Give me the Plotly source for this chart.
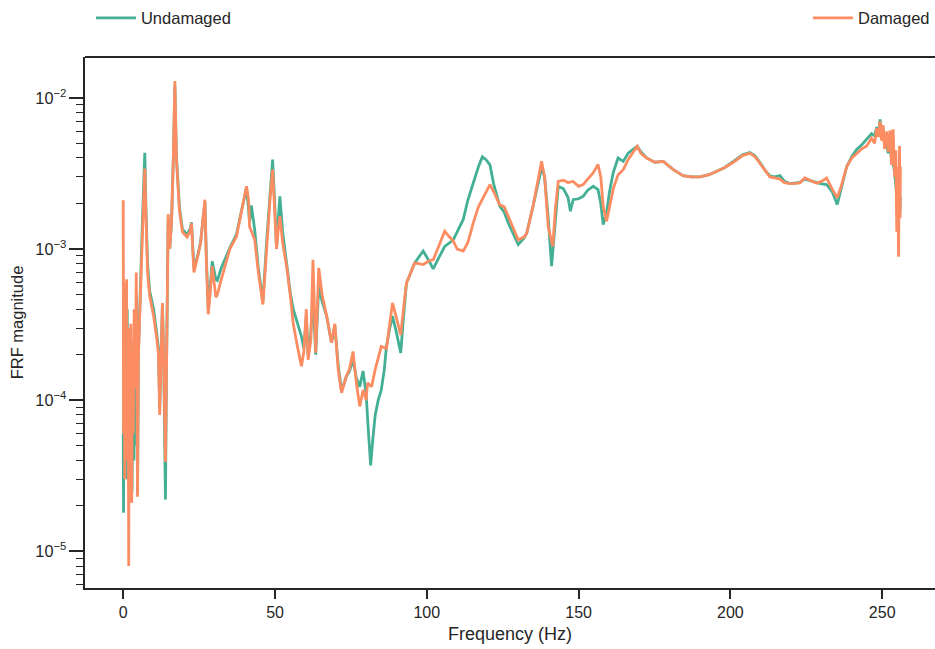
import plotly.graph_objects as go

# Frequency response function magnitudes (Hz, magnitude) for the two structural states
undamaged_freq = [
    0.0, 0.1, 0.3, 0.5, 0.8, 1.0, 1.3, 1.6, 2.0, 2.3, 2.6, 2.9, 3.2, 3.5, 3.8, 4.1, 4.4, 4.7,
    5.0, 5.4, 5.8, 6.3, 6.8, 7.1, 7.5, 8.0, 8.7, 10.0, 11.0, 11.6, 12.0, 12.4, 12.9, 13.3, 13.9,
    14.3, 14.8, 15.3, 15.9, 16.5, 17.0, 17.5, 18.5, 19.5, 21.0, 22.0, 22.5, 23.0, 23.3, 24.5,
    25.5, 26.3, 26.9, 27.4, 28.0, 28.6, 29.3, 30.5, 31.0, 32.3, 35.1, 37.3, 40.0, 40.6, 41.3,
    41.6, 42.2, 43.3, 44.5, 46.0, 47.2, 48.4, 49.2, 49.8, 50.5, 51.0, 51.6, 52.5, 53.8, 55.0,
    56.0, 57.5, 58.7, 59.5, 60.3, 60.9, 61.8, 62.5, 63.4, 64.4, 65.5, 67.0, 68.6, 69.7, 70.8,
    71.9, 73.5, 74.5, 75.7, 76.8, 77.9, 79.0, 80.0, 80.8, 81.5, 82.2, 83.0, 84.0, 85.0, 86.0,
    86.7, 87.8, 88.7, 90.0, 91.4, 92.3, 93.3, 96.0, 98.8, 100.5, 102.1, 104.0, 105.9, 107.5,
    108.7, 110.0, 112.0, 113.5, 115.3, 117.0, 118.3, 119.5, 120.8, 122.0, 124.0, 125.5, 126.8,
    128.5, 130.1, 132.0, 132.9, 135.0, 136.5, 137.8, 138.8, 140.0, 141.1, 142.3, 143.3, 145.0,
    146.5, 147.3, 148.2, 150.0, 151.5, 153.0, 154.8, 156.4, 157.3, 158.1, 159.2, 160.2, 161.4,
    163.0, 164.7, 166.3, 168.0, 169.3, 170.5, 172.4, 175.1, 177.9, 181.2, 184.4, 187.0, 190.0,
    193.0, 195.5, 198.0, 201.0, 204.0, 206.4, 208.0, 209.7, 211.5, 213.0, 214.6, 216.3, 217.8,
    219.6, 221.5, 222.9, 224.5, 226.0, 228.4, 230.0, 231.7, 233.5, 235.2, 236.5, 238.3, 240.0,
    241.6, 243.3, 244.9, 246.5, 247.5, 248.2, 248.8, 249.3, 249.8, 250.3, 250.8, 251.5, 252.0,
    252.6, 253.1, 253.6, 254.1, 254.7, 255.1, 255.5, 255.8, 256.0,
]
undamaged_mag = [
    6e-5, 1.8e-5, 3e-4, 5e-5, 3.4e-4, 3e-5, 4e-4, 6e-5, 3e-4, 3e-5, 2.5e-4, 2.5e-5, 2.2e-4, 4e-5,
    3e-4, 5e-5, 5e-4, 2.4e-5, 2e-4, 4.5e-4, 7e-4, 1.5e-3, 3e-3, 4.33e-3, 1.8e-3, 8e-4, 5.3e-4,
    4e-4, 2.8e-4, 2.2e-4, 9e-5, 1.6e-4, 4.3e-4, 2e-4, 2.2e-5, 2e-4, 1.6e-3, 1.0e-3, 1.5e-3, 4e-3,
    1.2e-2, 4.2e-3, 1.9e-3, 1.35e-3, 1.25e-3, 1.35e-3, 1.5e-3, 9.5e-4, 7.5e-4, 9e-4, 1.12e-3,
    1.6e-3, 2.05e-3, 8.5e-4, 4e-4, 5.5e-4, 8.3e-4, 6.3e-4, 6.2e-4, 7.5e-4, 1.02e-3, 1.25e-3,
    2.3e-3, 2.55e-3, 1.8e-3, 1.5e-3, 1.94e-3, 1.34e-3, 7.5e-4, 4.5e-4, 1.1e-3, 2.6e-3, 3.9e-3,
    2.2e-3, 1e-3, 1.5e-3, 2.23e-3, 1.3e-3, 8.1e-4, 5.2e-4, 4e-4, 3.2e-4, 2.64e-4, 2.2e-4,
    3.6e-4, 1.98e-4, 2.8e-4, 5e-4, 2e-4, 5.7e-4, 4.5e-4, 3.6e-4, 2.4e-4, 3.1e-4, 1.7e-4, 1.15e-4,
    1.44e-4, 1.55e-4, 1.85e-4, 1.4e-4, 1.23e-4, 1.56e-4, 1.1e-4, 6e-5, 3.7e-5, 5.5e-5, 8e-5,
    1.0e-4, 1.17e-4, 1.6e-4, 2.27e-4, 3.0e-4, 3.6e-4, 2.8e-4, 2.05e-4, 3.5e-4, 5.96e-4, 8.1e-4,
    9.7e-4, 8.5e-4, 7.4e-4, 8.8e-4, 1.04e-3, 1.1e-3, 1.15e-3, 1.3e-3, 1.57e-3, 2.1e-3, 2.74e-3,
    3.5e-3, 4.07e-3, 3.9e-3, 3.6e-3, 2.7e-3, 1.92e-3, 1.75e-3, 1.49e-3, 1.25e-3, 1.07e-3,
    1.18e-3, 1.27e-3, 1.92e-3, 2.6e-3, 3.44e-3, 3.0e-3, 1.6e-3, 7.7e-4, 1.6e-3, 2.6e-3, 2.5e-3,
    2.2e-3, 1.78e-3, 2.12e-3, 2.15e-3, 2.23e-3, 2.45e-3, 2.6e-3, 2.47e-3, 2.0e-3, 1.45e-3,
    1.73e-3, 2.4e-3, 3.2e-3, 4.0e-3, 3.8e-3, 4.3e-3, 4.6e-3, 4.78e-3, 4.4e-3, 4.0e-3, 3.75e-3,
    3.8e-3, 3.35e-3, 3.06e-3, 3.0e-3, 3.0e-3, 3.1e-3, 3.27e-3, 3.45e-3, 3.8e-3, 4.2e-3, 4.35e-3,
    4.15e-3, 3.75e-3, 3.3e-3, 3.05e-3, 3.0e-3, 3.06e-3, 2.8e-3, 2.71e-3, 2.75e-3, 2.76e-3,
    2.9e-3, 2.85e-3, 2.74e-3, 2.7e-3, 2.67e-3, 2.4e-3, 1.97e-3, 2.5e-3, 3.5e-3, 4.1e-3, 4.55e-3,
    4.9e-3, 5.3e-3, 5.8e-3, 5.6e-3, 6.4e-3, 5.9e-3, 7.2e-3, 5.6e-3, 6.3e-3, 4.9e-3, 4.8e-3,
    4.3e-3, 5.0e-3, 3.8e-3, 3.7e-3, 3.2e-3, 2.35e-3, 2.6e-3, 1.9e-3, 1.73e-3, 2.2e-3,
]

damaged_freq = [
    0.0, 0.1, 0.3, 0.5, 0.7, 0.9, 1.1, 1.3, 1.6, 1.8, 2.0, 2.2, 2.5, 2.8, 3.0, 3.3, 3.6, 3.9,
    4.3, 4.5, 4.7, 5.0, 5.4, 5.8, 6.3, 6.8, 7.1, 7.5, 8.0, 8.7, 10.0, 11.0, 11.6, 12.0, 12.4,
    12.9, 13.3, 13.9, 14.3, 14.8, 15.3, 15.9, 16.5, 17.0, 17.5, 18.5, 19.5, 21.0, 22.0, 22.5,
    23.0, 23.3, 24.5, 25.5, 26.3, 26.9, 27.4, 28.0, 28.6, 29.3, 30.5, 31.0, 32.3, 35.1, 37.3,
    40.0, 40.6, 41.3, 41.6, 43.3, 44.5, 46.0, 47.2, 48.4, 49.2, 49.8, 50.5, 51.0, 51.6, 52.5,
    53.8, 55.0, 56.0, 57.5, 58.7, 59.5, 60.3, 60.9, 61.8, 62.5, 63.4, 64.4, 65.5, 67.0, 68.6,
    69.7, 70.8, 71.9, 73.5, 74.5, 75.7, 76.8, 77.9, 79.0, 80.0, 80.5, 81.8, 83.0, 84.2, 85.0,
    86.7, 87.8, 88.7, 90.0, 91.4, 92.3, 93.3, 96.0, 98.8, 100.5, 102.1, 104.0, 105.9, 107.5,
    108.7, 110.0, 112.0, 113.5, 115.3, 117.0, 118.3, 119.5, 120.8, 122.0, 124.0, 125.5, 126.8,
    128.5, 130.1, 132.0, 132.9, 135.0, 136.5, 137.8, 138.8, 140.0, 141.5, 142.3, 143.3, 145.0,
    146.5, 148.2, 150.0, 151.5, 153.0, 154.8, 156.4, 157.3, 158.1, 159.2, 160.2, 161.4, 163.0,
    164.7, 166.3, 168.0, 169.3, 170.5, 172.4, 175.1, 177.9, 181.2, 184.4, 187.0, 190.0, 193.0,
    195.5, 198.0, 201.0, 204.0, 206.4, 208.0, 209.7, 211.5, 213.0, 214.6, 216.3, 217.8, 219.6,
    221.5, 222.9, 224.5, 226.0, 228.4, 230.0, 231.7, 233.5, 235.2, 236.5, 238.3, 240.0, 241.6,
    243.3, 244.9, 246.5, 247.5, 248.2, 248.8, 249.3, 249.8, 250.3, 250.8, 251.5, 252.0, 252.6,
    253.1, 253.6, 254.1, 254.5, 254.8, 255.1, 255.4, 255.7, 255.9, 256.0,
]
damaged_mag = [
    2.1e-3, 6e-5, 6e-4, 3e-5, 4e-4, 5e-5, 6.3e-4, 4e-5, 3e-4, 8e-6, 2.5e-4, 2.5e-5, 3.2e-4,
    2.1e-5, 2.2e-4, 6e-5, 4e-4, 1.2e-4, 7e-4, 1.5e-4, 2.3e-5, 2e-4, 4e-4, 6e-4, 1.2e-3, 2.5e-3,
    3.4e-3, 1.6e-3, 7e-4, 4.9e-4, 3.6e-4, 2.6e-4, 2e-4, 8e-5, 1.5e-4, 4.4e-4, 2e-4, 3.9e-5,
    2e-4, 1.7e-3, 1.0e-3, 1.5e-3, 4e-3, 1.29e-2, 4e-3, 1.8e-3, 1.3e-3, 1.2e-3, 1.3e-3, 1.48e-3,
    9e-4, 7e-4, 8.9e-4, 1.1e-3, 1.6e-3, 2.12e-3, 8e-4, 3.7e-4, 5e-4, 7.7e-4, 4.8e-4, 5e-4,
    6.3e-4, 1e-3, 1.21e-3, 2.34e-3, 2.6e-3, 2.1e-3, 1.41e-3, 1.15e-3, 7e-4, 4.3e-4, 1e-3, 2.2e-3,
    3.35e-3, 2e-3, 1e-3, 1.3e-3, 1.65e-3, 1.1e-3, 7.7e-4, 5e-4, 3.2e-4, 2.2e-4, 1.68e-4, 2.1e-4,
    4e-4, 1.85e-4, 2.5e-4, 8.5e-4, 2.06e-4, 7.5e-4, 5e-4, 3.6e-4, 2.4e-4, 3.2e-4, 1.6e-4,
    1.12e-4, 1.44e-4, 1.6e-4, 2.1e-4, 1.3e-4, 9.1e-5, 1.17e-4, 1e-4, 1.3e-4, 1.23e-4, 1.6e-4,
    2e-4, 2.27e-4, 2.2e-4, 3.3e-4, 4.4e-4, 3.5e-4, 2.7e-4, 4e-4, 5.96e-4, 8.1e-4, 7.9e-4,
    8.3e-4, 8.5e-4, 1.05e-3, 1.31e-3, 1.2e-3, 1.13e-3, 1.0e-3, 9.7e-4, 1.1e-3, 1.49e-3, 1.9e-3,
    2.12e-3, 2.4e-3, 2.67e-3, 2.4e-3, 1.96e-3, 1.9e-3, 1.65e-3, 1.35e-3, 1.15e-3, 1.2e-3,
    1.27e-3, 1.92e-3, 2.8e-3, 3.8e-3, 3.0e-3, 1.4e-3, 1.04e-3, 1.8e-3, 2.8e-3, 2.85e-3, 2.75e-3,
    2.8e-3, 2.6e-3, 2.67e-3, 2.9e-3, 3.19e-3, 3.62e-3, 3.0e-3, 1.92e-3, 1.53e-3, 1.9e-3, 2.5e-3,
    3.1e-3, 3.35e-3, 3.9e-3, 4.4e-3, 4.78e-3, 4.3e-3, 4.0e-3, 3.75e-3, 3.8e-3, 3.35e-3, 3.06e-3,
    3.0e-3, 3.0e-3, 3.1e-3, 3.27e-3, 3.45e-3, 3.75e-3, 4.15e-3, 4.3e-3, 4.1e-3, 3.7e-3, 3.3e-3,
    3.0e-3, 2.95e-3, 2.9e-3, 2.75e-3, 2.71e-3, 2.72e-3, 2.74e-3, 2.95e-3, 2.85e-3, 2.72e-3,
    2.8e-3, 2.95e-3, 2.5e-3, 2.18e-3, 2.6e-3, 3.5e-3, 4.0e-3, 4.3e-3, 4.6e-3, 4.8e-3, 5.4e-3,
    5.0e-3, 6.3e-3, 5.5e-3, 7.0e-3, 5.2e-3, 6.6e-3, 4.6e-3, 6.0e-3, 4.4e-3, 6.1e-3, 3.6e-3,
    6.2e-3, 3.0e-3, 4.5e-3, 1.3e-3, 3.5e-3, 8.9e-4, 4.8e-3, 1.6e-3, 3.5e-3,
]

x_ticks = [0, 50, 100, 150, 200, 250]

GREEN = "#43b096"
ORANGE = "#fc8d62"
INK = "#262626"
FONT = "Liberation Sans, Arial, sans-serif"

fig = go.Figure()
fig.add_trace(go.Scatter(
    x=undamaged_freq, y=undamaged_mag, mode="lines", name="Undamaged",
    line=dict(color=GREEN, width=2.8), legend="legend", showlegend=True,
))
fig.add_trace(go.Scatter(
    x=damaged_freq, y=damaged_mag, mode="lines", name="Damaged",
    line=dict(color=ORANGE, width=2.8), legend="legend2", showlegend=True,
))

fig.update_layout(
    width=935, height=649,
    margin=dict(l=85, r=0, t=57, b=61),
    plot_bgcolor="white", paper_bgcolor="white",
    font=dict(family=FONT, color=INK, size=16),
    showlegend=True,
    legend=dict(x=0.007, xanchor="left", y=1.073, yanchor="middle", visible=True,
                font=dict(size=16.5), itemwidth=40, bgcolor="rgba(0,0,0,0)"),
    legend2=dict(x=1.0, xanchor="right", y=1.073, yanchor="middle", visible=True,
                 font=dict(size=16.5), itemwidth=40, bgcolor="rgba(0,0,0,0)"),
    shapes=[dict(type="line", xref="paper", yref="paper", x0=0, x1=1, y0=1, y1=1,
                 line=dict(color=INK, width=2))],
)

fig.update_xaxes(
    range=[-12.6, 267.4], tickvals=x_ticks, ticks="outside", ticklen=9, tickwidth=1.6,
    tickcolor=INK, showline=True, linecolor=INK, linewidth=2, showgrid=False, zeroline=False,
    tickfont=dict(size=16), title=dict(text="Frequency (Hz)", font=dict(size=18), standoff=7),
)
fig.update_yaxes(
    type="log", range=[-5.242, -1.730], dtick=1, exponentformat="power",
    ticks="outside", ticklen=14, tickwidth=1.6, tickcolor=INK,
    minor=dict(ticks="outside", ticklen=7, tickwidth=1.3, tickcolor=INK, dtick="D1", showgrid=False),
    showline=True, linecolor=INK, linewidth=2, showgrid=False, zeroline=False,
    tickfont=dict(size=13), title=dict(text="FRF magnitude", font=dict(size=16.5), standoff=8),
)

fig.write_html("out.html")
